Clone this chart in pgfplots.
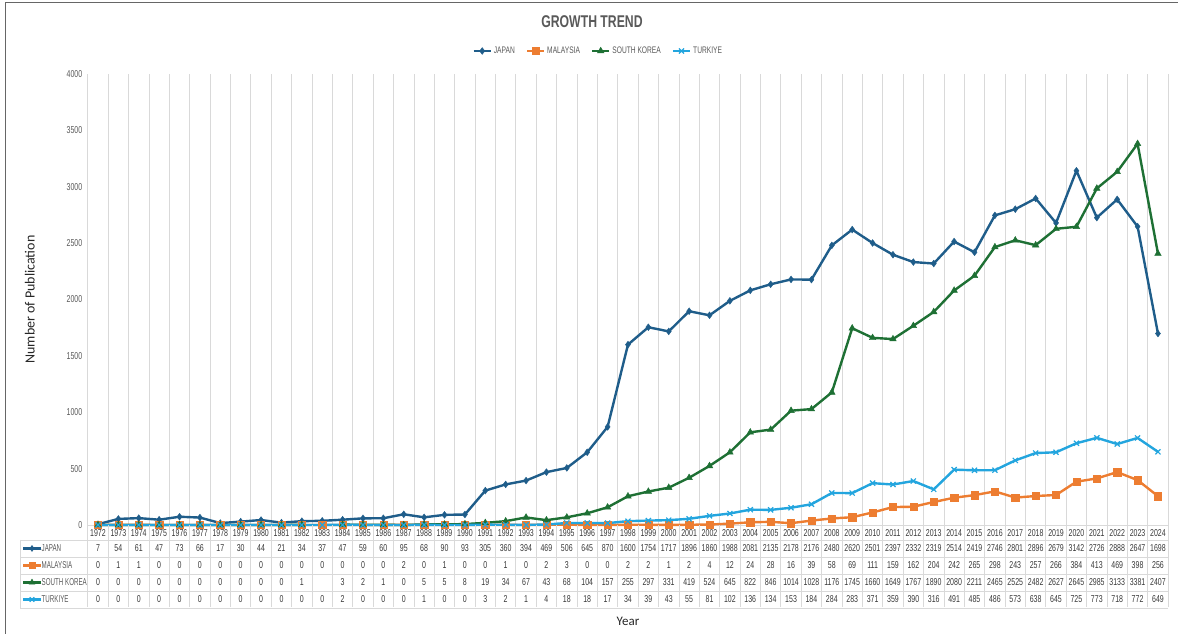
\documentclass[border=0pt]{standalone}
\usepackage{pgfplots}
\pgfplotsset{compat=1.18}
\usepackage{pgfplotstable}
\usepackage{fontspec}
\setmainfont{Liberation Sans}
\newfontfamily\narrow{Liberation Sans}[FakeStretch=0.7]
\newfontfamily\narrowr{Liberation Sans}[FakeStretch=0.62]
\newfontfamily\titlefont{Liberation Sans}[FakeStretch=0.72]
\newfontfamily\calib{Carlito}
\definecolor{jp}{RGB}{31,93,138}
\definecolor{my}{RGB}{237,125,49}
\definecolor{sk}{RGB}{30,112,52}
\definecolor{tr}{RGB}{35,165,222}
\definecolor{txt}{RGB}{89,89,89}
\definecolor{grd}{RGB}{217,217,217}

\pgfplotstableread{
year jp my sk tr
1972 7 0 0 0
1973 54 1 0 0
1974 61 1 0 0
1975 47 0 0 0
1976 73 0 0 0
1977 66 0 0 0
1978 17 0 0 0
1979 30 0 0 0
1980 44 0 0 0
1981 21 0 0 0
1982 34 0 1 0
1983 37 0 nan 0
1984 47 0 3 2
1985 59 0 2 0
1986 60 0 1 0
1987 95 2 0 0
1988 68 0 5 1
1989 90 1 5 0
1990 93 0 8 0
1991 305 0 19 3
1992 360 1 34 2
1993 394 0 67 1
1994 469 2 43 4
1995 506 3 68 18
1996 645 0 104 18
1997 870 0 157 17
1998 1600 2 255 34
1999 1754 2 297 39
2000 1717 1 331 43
2001 1896 2 419 55
2002 1860 4 524 81
2003 1988 12 645 102
2004 2081 24 822 136
2005 2135 28 846 134
2006 2178 16 1014 153
2007 2176 39 1028 184
2008 2480 58 1176 284
2009 2620 69 1745 283
2010 2501 111 1660 371
2011 2397 159 1649 359
2012 2332 162 1767 390
2013 2319 204 1890 316
2014 2514 242 2080 491
2015 2419 265 2211 485
2016 2746 298 2465 486
2017 2801 243 2525 573
2018 2896 257 2482 638
2019 2679 266 2627 645
2020 3142 384 2645 725
2021 2726 413 2985 773
2022 2888 469 3133 718
2023 2647 398 3381 772
2024 1698 256 2407 649
}\data

\def\nanstr{nan}
\tikzset{tbl/.style={font=\narrow\fontsize{10}{10}\selectfont, text=black!78, inner sep=0pt, anchor=center},
  rowlab/.style={font=\narrowr\fontsize{10}{10}\selectfont, text=txt, inner sep=0pt, anchor=west}}

\begin{document}
\begin{tikzpicture}
\path[use as bounding box] (0pt,0pt) rectangle (1178pt,634pt);
\draw[black!60, line width=1pt] (5pt,-2pt) -- (5pt,631pt) -- (1180pt,631pt);
\node[font=\titlefont\bfseries\fontsize{17}{17}\selectfont, text=txt] at (592pt,612pt) {GROWTH TREND};

\begin{axis}[
  at={(87.8pt,109pt)}, anchor=south west,
  scale only axis, width=1080.4pt, height=451pt,
  xmin=1971.5, xmax=2024.5, ymin=0, ymax=4000,
  ytick={0,500,...,4000},
  xtick={1971.5,1972.5,...,2024.5},
  xticklabels={},
  xmajorgrids,
  x grid style={grd, line width=0.8pt},
  axis x line*=bottom, axis y line*=left,
  y axis line style={draw=none},
  x axis line style={grd, line width=0.8pt},
  tick align=inside,
  major tick length=0pt,
  tick style={draw=none},
  yticklabel style={font=\narrow\fontsize{10}{10}\selectfont, text=txt, xshift=-2pt},
  /pgf/number format/1000 sep={},
  /pgf/number format/assume math mode=true,
  scaled y ticks=false,
  clip=false,
  unbounded coords=jump,
  ylabel={Number of Publication},
  ylabel style={font=\calib\fontsize{14}{14}\selectfont, text=black!85, at={(axis description cs:-0.0537,0.5)}, anchor=center, rotate=0},
  legend columns=4,
  legend style={at={(axis description cs:0.4725,1.051)}, anchor=center, draw=none, fill=none,
    font=\narrow\fontsize{9.5}{9.5}\selectfont, text=txt,
    /tikz/every even column/.append style={column sep=9pt}},
  legend image code/.code={\draw[mark repeat=2, mark phase=2] plot coordinates {(0pt,0pt) (8.5pt,0pt) (17pt,0pt)};},
]
\addplot[jp, line width=2.4pt, mark=diamond*, mark size=3.4pt, mark options={solid, line width=0.4pt}] table[x=year, y=jp]{\data};
\addlegendentry{JAPAN}
\addplot[my, line width=2.4pt, mark=square*, mark size=3.6pt, mark options={solid, line width=0.4pt}] table[x=year, y=my]{\data};
\addlegendentry{MALAYSIA}
\addplot[sk, line width=2.4pt, mark=triangle*, mark size=3.8pt, mark options={solid, line width=0.4pt}] table[x=year, y=sk]{\data};
\addlegendentry{SOUTH KOREA}
\addplot[tr, line width=2.4pt, mark=x, mark size=3.6pt, mark options={solid, line width=1.2pt}] table[x=year, y=tr]{\data};
\addlegendentry{TURKIYE}

\draw[grd, line width=0.8pt] (axis cs:1971.5,0) -- ++(0pt,-82pt);
\pgfplotsinvokeforeach{0,...,52}{
  \pgfplotstablegetelem{#1}{year}\of\data \edef\vyr{\pgfplotsretval}
  \pgfplotstablegetelem{#1}{jp}\of\data \edef\vjp{\pgfplotsretval}
  \pgfplotstablegetelem{#1}{my}\of\data \edef\vmy{\pgfplotsretval}
  \pgfplotstablegetelem{#1}{sk}\of\data \edef\vsk{\pgfplotsretval}
  \pgfplotstablegetelem{#1}{tr}\of\data \edef\vtr{\pgfplotsretval}
  \ifx\vsk\nanstr \def\vsk{}\fi
  \edef\tmp{%
    \noexpand\draw[grd, line width=0.8pt] (axis cs:\vyr.5,0) -- ++(0pt,-82pt);
    \noexpand\node[tbl, yshift=-8.5pt] at (axis cs:\vyr,0) {\vyr};
    \noexpand\node[tbl, yshift=-23.5pt] at (axis cs:\vyr,0) {\vjp};
    \noexpand\node[tbl, yshift=-40.5pt] at (axis cs:\vyr,0) {\vmy};
    \noexpand\node[tbl, yshift=-57.5pt] at (axis cs:\vyr,0) {\vsk};
    \noexpand\node[tbl, yshift=-74.5pt] at (axis cs:\vyr,0) {\vtr};
  }\tmp
}
\end{axis}

% table rules
\foreach \yy in {94,77,60,43,26} {\draw[grd, line width=0.8pt] (20pt,\yy pt) -- (1168.2pt,\yy pt);}
\draw[grd, line width=0.8pt] (20pt,94pt) -- (20pt,26pt);
% row labels
\draw[jp, line width=2.2pt, mark=diamond*, mark size=3pt, mark indices={2}, mark options={line width=0.4pt}] plot coordinates {(23pt,85.5pt) (32pt,85.5pt) (41pt,85.5pt)};
\node[rowlab] at (41.5pt,85.5pt) {JAPAN};
\draw[my, line width=2.2pt, mark=square*, mark size=3.2pt, mark indices={2}, mark options={line width=0.4pt}] plot coordinates {(23pt,68.5pt) (32pt,68.5pt) (41pt,68.5pt)};
\node[rowlab] at (41.5pt,68.5pt) {MALAYSIA};
\draw[sk, line width=2.2pt, mark=triangle*, mark size=3.4pt, mark indices={2}, mark options={line width=0.4pt}] plot coordinates {(23pt,51.5pt) (32pt,51.5pt) (41pt,51.5pt)};
\node[rowlab] at (41.5pt,51.5pt) {SOUTH KOREA};
\draw[tr, line width=2.2pt, mark=x, mark size=3.2pt, mark indices={2}, mark options={line width=1.1pt}] plot coordinates {(23pt,34.5pt) (32pt,34.5pt) (41pt,34.5pt)};
\node[rowlab] at (41.5pt,34.5pt) {TURKIYE};

\node[font=\calib\fontsize{13}{13}\selectfont, text=black!85] at (628pt,13pt) {Year};
\end{tikzpicture}
\end{document}
